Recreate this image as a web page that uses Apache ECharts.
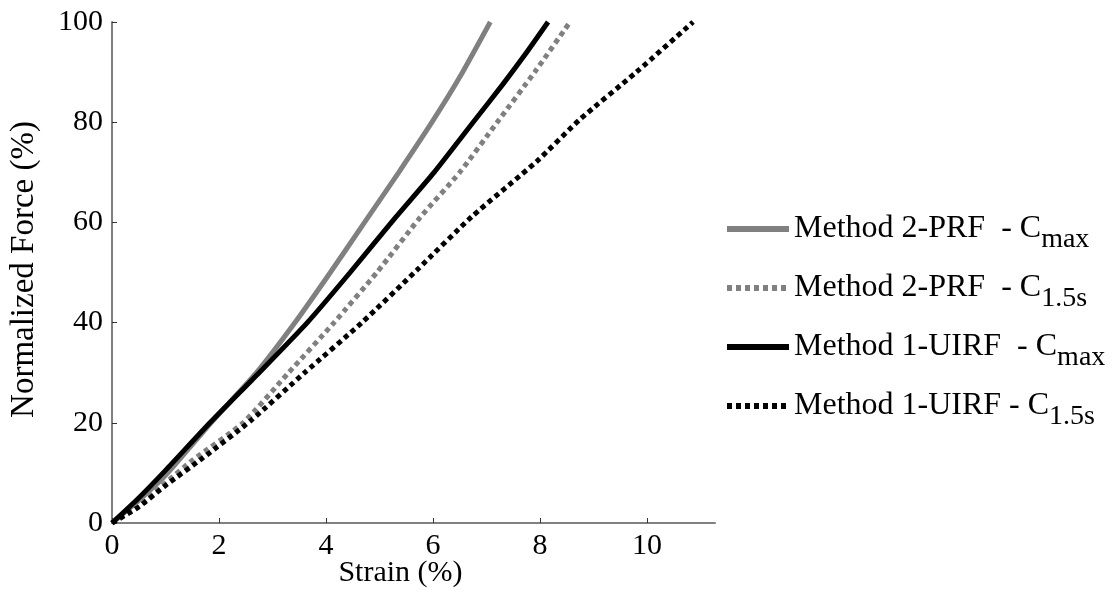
<!DOCTYPE html>
<html>
<head>
<meta charset="utf-8">
<script src="https://cdn.jsdelivr.net/npm/echarts@6/dist/echarts.min.js"></script>
<style>
  html, body { margin: 0; padding: 0; background: #fff; }
  #main { width: 1120px; height: 610px; }
</style>
</head>
<body>
<div id="main"></div>
<script>
// values: strain (%) and normalized force (%)
const m2MaxStrain = [0, 0.5, 1, 1.85, 2.7, 3.42, 4.08, 4.72, 5.36, 5.98, 6.5, 7.07];
const m2MaxForce  = [0, 4.5, 9.5, 20, 30,  40,   50,   60,  70,   80,   89,  100];

const m2SecStrain = [0, 0.5, 1, 1.5, 2.45, 3.3, 4.15, 4.95, 5.76, 6.5, 7.2, 7.9, 8.56];
const m2SecForce  = [0, 3.5, 8, 12.5, 20,  30,  40,   50,   61,   70,  80,  90,  100];

const m1MaxStrain = [0, 0.5, 1, 1.83, 2.75, 3.65, 4.45, 5.3, 6.02, 6.75, 7.3, 7.72, 8.15];
const m1MaxForce  = [0, 5,  10.5, 20,  30,   40,   50,   61,  70,   80,  87.5, 93.5, 100];

const m1SecStrain = [0, 0.5, 1, 1.7, 2.6, 3.6, 4.67, 5.7, 6.73, 7.94, 8.75, 9.8, 10.86];
const m1SecForce  = [0, 3.2, 7.5, 13, 20.5, 30,  40,   50.5, 61.2, 72.2, 80.6, 90,  100];

const xTicks = [0, 2, 4, 6, 8, 10];
const yTicks = [0, 20, 40, 60, 80, 100];

const names = [
  'Method 2-PRF  - C{sub|max}',
  'Method 2-PRF  - C{sub|1.5s}',
  'Method 1-UIRF  - C{sub|max}',
  'Method 1-UIRF - C{sub|1.5s}'
];

function pairs(xs, ys) {
  return xs.map((x, i) => [x, ys[i]]);
}

const serif = '"Liberation Serif", "Times New Roman", serif';
const gray = '#808080';

const chart = echarts.init(document.getElementById('main'));

function lineSeries(name, data, color, dashed) {
  return {
    name: name,
    type: 'line',
    data: data,
    symbol: 'none',
    smooth: 0.2,
    clip: false,
    lineStyle: {
      color: color,
      width: 5,
      type: dashed ? [5, 4] : 'solid',
      cap: 'butt'
    },
    itemStyle: { color: color }
  };
}

chart.setOption({
  animation: false,
  backgroundColor: '#fff',
  grid: { left: 112, top: 22, width: 603, height: 501, outerBoundsMode: 'none' },
  legend: {
    orient: 'vertical',
    left: 724,
    top: 204,
    padding: 0,
    itemWidth: 62,
    itemHeight: 14,
    itemGap: 9,
    itemStyle: { opacity: 0 },
    lineStyle: { width: 6 },
    textStyle: {
      fontFamily: serif,
      fontSize: 32,
      color: '#000',
      lineHeight: 50,
      rich: {
        sub: {
          fontFamily: serif,
          fontSize: 28,
          color: '#000',
          lineHeight: 20,
          verticalAlign: 'bottom'
        }
      }
    },
    data: names
  },
  xAxis: {
    type: 'value',
    min: 0,
    max: 11.27,
    name: 'Strain (%)',
    nameLocation: 'middle',
    nameGap: 35,
    nameMoveOverlap: false,
    nameTextStyle: { fontFamily: serif, fontSize: 30, color: '#000', padding: [0, 26, 0, 0] },
    splitLine: { show: false },
    axisLine: { lineStyle: { color: gray, width: 2 } },
    axisTick: { inside: true, length: 5, customValues: xTicks, lineStyle: { color: '#333' } },
    axisLabel: { customValues: xTicks, fontFamily: serif, fontSize: 30, color: '#000', margin: 8 }
  },
  yAxis: {
    type: 'value',
    min: 0,
    max: 100,
    interval: 20,
    name: 'Normalized Force (%)',
    nameLocation: 'middle',
    nameGap: 71,
    nameMoveOverlap: false,
    nameTextStyle: { fontFamily: serif, fontSize: 33, color: '#000', padding: [0, 0, 0, 6] },
    splitLine: { show: false },
    axisLine: { lineStyle: { color: gray, width: 2 } },
    axisTick: { inside: true, length: 5, customValues: yTicks, lineStyle: { color: '#333' } },
    axisLabel: { customValues: yTicks, fontFamily: serif, fontSize: 30, color: '#000', margin: 9 }
  },
  series: [
    lineSeries(names[0], pairs(m2MaxStrain, m2MaxForce), gray, false),
    lineSeries(names[1], pairs(m2SecStrain, m2SecForce), gray, true),
    lineSeries(names[2], pairs(m1MaxStrain, m1MaxForce), '#000', false),
    lineSeries(names[3], pairs(m1SecStrain, m1SecForce), '#000', true)
  ]
});
</script>
</body>
</html>
